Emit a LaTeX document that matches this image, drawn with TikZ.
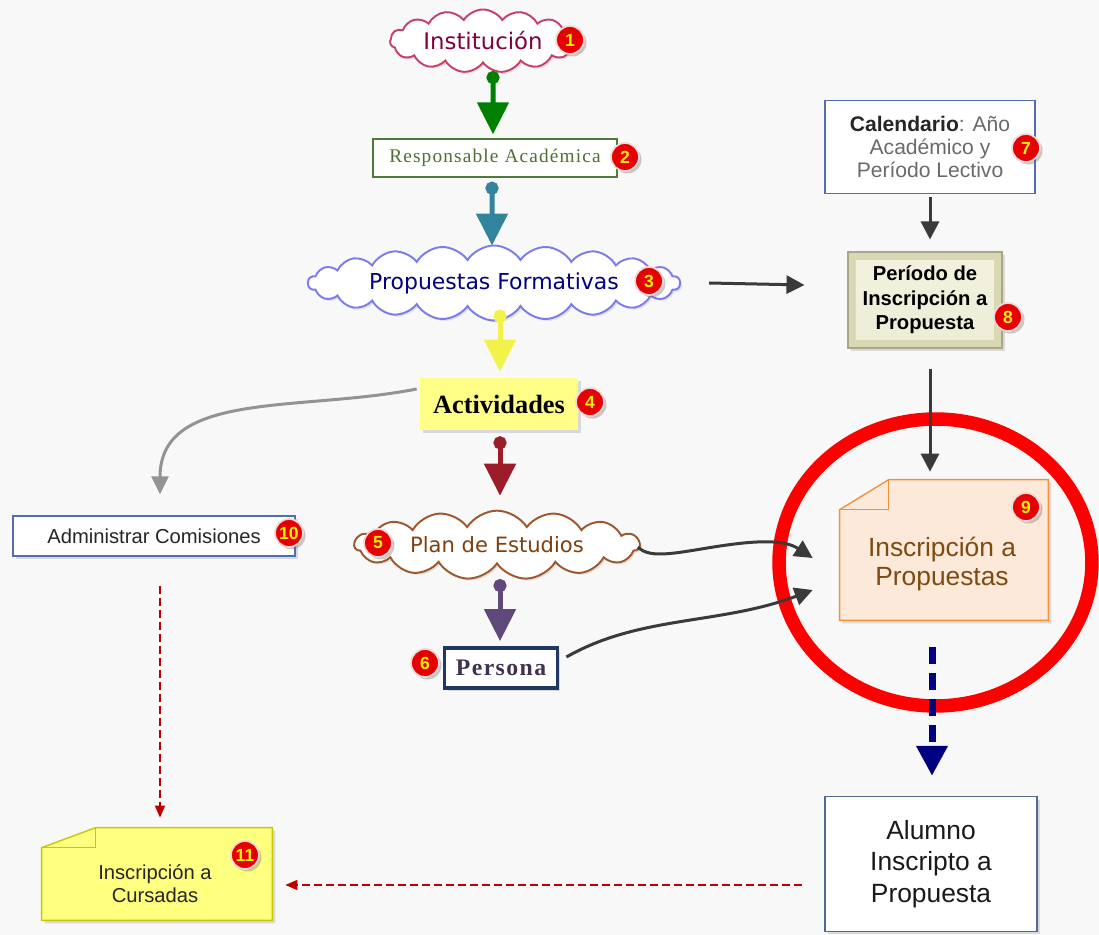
\documentclass[tikz,border=0pt]{standalone}
\usepackage{fontspec}
\setmainfont{Liberation Sans}
\newfontfamily\seriffont{Liberation Serif}
\newfontfamily\respfont{Liberation Serif}[LetterSpace=6]
\newfontfamily\persfont{Liberation Serif}[LetterSpace=6]
\newfontfamily\comicfont{DejaVu Sans}
\usetikzlibrary{shapes.symbols,shapes.geometric,arrows.meta,shadows,calc}
\definecolor{bgc}{HTML}{F8F8F8}
\definecolor{badgered}{HTML}{E60000}
\definecolor{badgerim}{HTML}{F2D8D8}
\definecolor{instc}{HTML}{C8406A}
\definecolor{insttext}{HTML}{800040}
\definecolor{greenarr}{HTML}{008000}
\definecolor{respc}{HTML}{4E7A3A}
\definecolor{resptext}{HTML}{4F7030}
\definecolor{tealarr}{HTML}{31849B}
\definecolor{propc}{HTML}{7B7BF0}
\definecolor{proptext}{HTML}{000080}
\definecolor{yellowarr}{HTML}{F2F24A}
\definecolor{actfill}{HTML}{FFFF88}
\definecolor{redarr}{HTML}{9E1B2A}
\definecolor{planc}{HTML}{A0562D}
\definecolor{plantext}{HTML}{7F4010}
\definecolor{purplearr}{HTML}{5F497A}
\definecolor{persc}{HTML}{1F3864}
\definecolor{perstext}{HTML}{3F3151}
\definecolor{boxblue}{HTML}{4F6FB0}
\definecolor{dashred}{HTML}{C00000}
\definecolor{curfill}{HTML}{FFFF80}
\definecolor{curborder}{HTML}{C8C800}
\definecolor{alc}{HTML}{4F6A8F}
\definecolor{caltext}{HTML}{6A6A6A}
\definecolor{perout}{HTML}{D8D8B4}
\definecolor{perin}{HTML}{F2F2DE}
\definecolor{perborder}{HTML}{A8A888}
\definecolor{inscfill}{HTML}{FDE9D9}
\definecolor{inscborder}{HTML}{F0923C}
\definecolor{insctext}{HTML}{7F4A10}
\definecolor{darkline}{HTML}{3A3A3A}
\definecolor{navyarr}{HTML}{000080}
\definecolor{hlred}{HTML}{FF0000}
\begin{document}
\begin{tikzpicture}[x=0.02cm,y=-0.02cm,
  badge/.style={circle, fill=badgered, draw=badgerim, line width=1pt, minimum size=0.56cm, inner sep=0pt,
    text=yellow, font=\bfseries\fontsize{10}{10}\selectfont,
    drop shadow={shadow xshift=0.05cm, shadow yshift=-0.05cm, opacity=0.35, fill=black!60}},
  flowarr/.style={line width=0.1cm, draw=#1, {Circle[length=0.26cm]}-{Triangle[width=0.62cm,length=0.64cm]}},
  darkarr/.style={line width=0.06cm, draw=darkline, -{Triangle[width=0.36cm,length=0.36cm]}},
  greyarr/.style={line width=0.06cm, draw=gray!85, -{Triangle[width=0.34cm,length=0.36cm]}},
  reddash/.style={line width=0.03cm, draw=dashred, dash pattern=on 0.16cm off 0.08cm, -{Triangle[width=0.2cm,length=0.24cm]}},
  navydash/.style={line width=0.14cm, draw=navyarr, dash pattern=on 0.34cm off 0.18cm, -{Triangle[width=0.6cm,length=0.6cm]}},
  cloudbox/.style={cloud, cloud puffs=15, cloud puff arc=115, cloud ignores aspect, fill=white, line width=1.1pt,
    drop shadow={shadow xshift=0.04cm, shadow yshift=-0.04cm, opacity=0.2}},
  plainbox/.style={rectangle, fill=white, line width=0.8pt, align=center},
  softshadow/.style={drop shadow={shadow xshift=0.06cm, shadow yshift=-0.06cm, opacity=0.25}}
]
\fill[bgc] (0,0) rectangle (1099,935);
\useasboundingbox (0,0) rectangle (1099,935);

% highlight ellipse
\node[ellipse, draw=hlred, line width=0.27cm, minimum width=6.26cm, minimum height=5.74cm, inner sep=0pt] (hl) at (935.5,562.5) {};

% left column nodes
\node[cloudbox, draw=instc, text=insttext, minimum width=3.7cm, minimum height=1.24cm,
  font=\comicfont\fontsize{13}{15}\selectfont] (inst) at (483,41) {Institución};
\node[plainbox, draw=respc, text=resptext, minimum width=4.88cm, minimum height=0.76cm,
  font=\respfont\fontsize{11}{13}\selectfont] (resp) at (495,158) {Responsable Académica};
\node[cloudbox, cloud puffs=22, draw=propc, text=proptext, minimum width=7.44cm, minimum height=0.95cm,
  font=\comicfont\fontsize{12.5}{14}\selectfont] (prop) at (494,283) {Propuestas Formativas};
\node[rectangle, fill=actfill, minimum width=3.16cm, minimum height=1.04cm, softshadow,
  font=\seriffont\bfseries\fontsize{15}{18}\selectfont] (act) at (499,404) {Actividades};
\node[cloudbox, draw=planc, text=plantext, minimum width=5.7cm, minimum height=1.3cm,
  font=\comicfont\fontsize{12}{14}\selectfont] (plan) at (497,545) {Plan de Estudios};
\node[plainbox, draw=persc, line width=2.2pt, text=perstext, minimum width=2.26cm, minimum height=0.8cm, softshadow,
  font=\persfont\bfseries\fontsize{13.5}{15}\selectfont] (pers) at (501,668) {Persona};
\node[plainbox, draw=boxblue, text=black!85, minimum width=5.64cm, minimum height=0.8cm, softshadow,
  font=\fontsize{11.5}{14}\selectfont] (adm) at (154,536) {Administrar Comisiones};

% Inscripcion a Cursadas (note)
\node[minimum width=4.6cm, minimum height=1.84cm, inner sep=0pt] (cur) at (157,874) {};
\filldraw[fill=curfill, draw=curborder, line width=0.8pt, softshadow]
  ($(cur.north west)+(0,20)$) -- ($(cur.north west)+(54,0)$) -- (cur.north east) -- (cur.south east) -- (cur.south west) -- cycle;
\draw[curborder, line width=0.8pt] ($(cur.north west)+(54,0)$) -- ($(cur.north west)+(54,20)$) -- ($(cur.north west)+(0,20)$);
\node[align=center, text=black!85, font=\fontsize{11.5}{13}\selectfont] (curT) at ($(cur.center)+(-2,10)$) {Inscripción a\\Cursadas};

% right column nodes
\node[plainbox, draw=boxblue, text=caltext, minimum width=4.2cm, minimum height=1.86cm,
  font=\fontsize{12}{13}\selectfont] (cal) at (930,147) {\textbf{\color{black!85}Calendario}: Año\\Académico y\\Período Lectivo};
\node[rectangle, fill=perout, draw=perborder, line width=0.6pt, minimum width=3.08cm, minimum height=1.92cm, softshadow,
  align=center, font=\bfseries\fontsize{11.5}{14}\selectfont,
  path picture={\shade[top color=perin, bottom color=perin!80!perout]
     ($(path picture bounding box.south west)+(8,-8)$) rectangle ($(path picture bounding box.north east)+(-8,8)$);}]
  (per) at (925,300) {Período de\\Inscripción a\\Propuesta};

% Inscripcion a Propuestas (note)
\node[minimum width=4.16cm, minimum height=2.8cm, inner sep=0pt] (insc) at (944,550) {};
\filldraw[fill=inscfill, draw=inscborder, line width=0.8pt, softshadow]
  ($(insc.north west)+(0,30)$) -- ($(insc.north west)+(49,0)$) -- (insc.north east) -- (insc.south east) -- (insc.south west) -- cycle;
\draw[inscborder, line width=0.8pt] ($(insc.north west)+(49,0)$) -- ($(insc.north west)+(49,30)$) -- ($(insc.north west)+(0,30)$);
\node[align=center, text=insctext, font=\fontsize{15}{17}\selectfont] (inscT) at ($(insc.center)+(-2,14)$) {Inscripción a\\Propuestas};

\node[plainbox, draw=alc, text=black!90, minimum width=4.24cm, minimum height=2.7cm, softshadow,
  font=\fontsize{15}{18}\selectfont] (alu) at (931,864) {Alumno\\Inscripto a\\Propuesta};

% connectors
\draw[flowarr=greenarr] ($(inst.south)+(10,7)$) -- ($(resp.north)+(-2,-4)$);
\draw[flowarr=tealarr] ($(resp.south)+(-3,4)$) -- ($(prop.north)+(-2,1)$);
\draw[flowarr=yellowarr] ($(act.north)+(1,-68)$) -- ($(act.north)+(1,-6)$);
\draw[flowarr=redarr] ($(act.south)+(1,6)$) -- ($(plan.north)+(3,-14)$);
\draw[flowarr=purplearr] ($(pers.north)+(-1,-67)$) -- ($(pers.north)+(-1,-5)$);
\draw[greyarr] ($(act.west)+(-3,-15)$) .. controls (300,412) and (160,390) .. ($(adm.north)+(6,-21)$);
\draw[reddash] ($(adm.south)+(6,29)$) -- ($(cur.north)+(3,-10)$);
\draw[reddash] ($(alu.west)+(-22,21)$) -- ($(cur.east)+(13,11)$);
\draw[darkarr] ($(prop.east)+(28,0)$) -- ($(per.west)+(-43,-15)$);
\draw[darkarr] ($(cal.south)+(0,3)$) -- ($(per.north)+(5,-12)$);
\draw[darkarr] ($(per.south)+(5,20)$) -- ($(insc.north)+(-14,-8)$);
\draw[darkarr] ($(plan.east)+(-3,2)$) .. controls (650,560) and (680,552) .. (720,546)
   .. controls (760,540) and (785,540) .. ($(insc.west)+(-27,8)$);
\draw[darkarr] ($(pers.east)+(7,-11)$) .. controls (640,615) and (720,625) .. ($(insc.west)+(-27,40)$);
\draw[navydash] ($(insc.south)+(-12,27)$) -- ($(alu.north)+(1,-20)$);

% badges
\node[badge] (b1) at (570,40) {1};
\node[badge] (b2) at (625,157) {2};
\node[badge] (b3) at (649,281) {3};
\node[badge] (b4) at (590,402) {4};
\node[badge] (b5) at (378,543) {5};
\node[badge] (b6) at (425,663) {6};
\node[badge] (b7) at (1026,148) {7};
\node[badge] (b8) at (1008,317) {8};
\node[badge] (b9) at (1026,507) {9};
\node[badge] (b10) at (289,533) {10};
\node[badge] (b11) at (245,855) {11};
\end{tikzpicture}
\end{document}
